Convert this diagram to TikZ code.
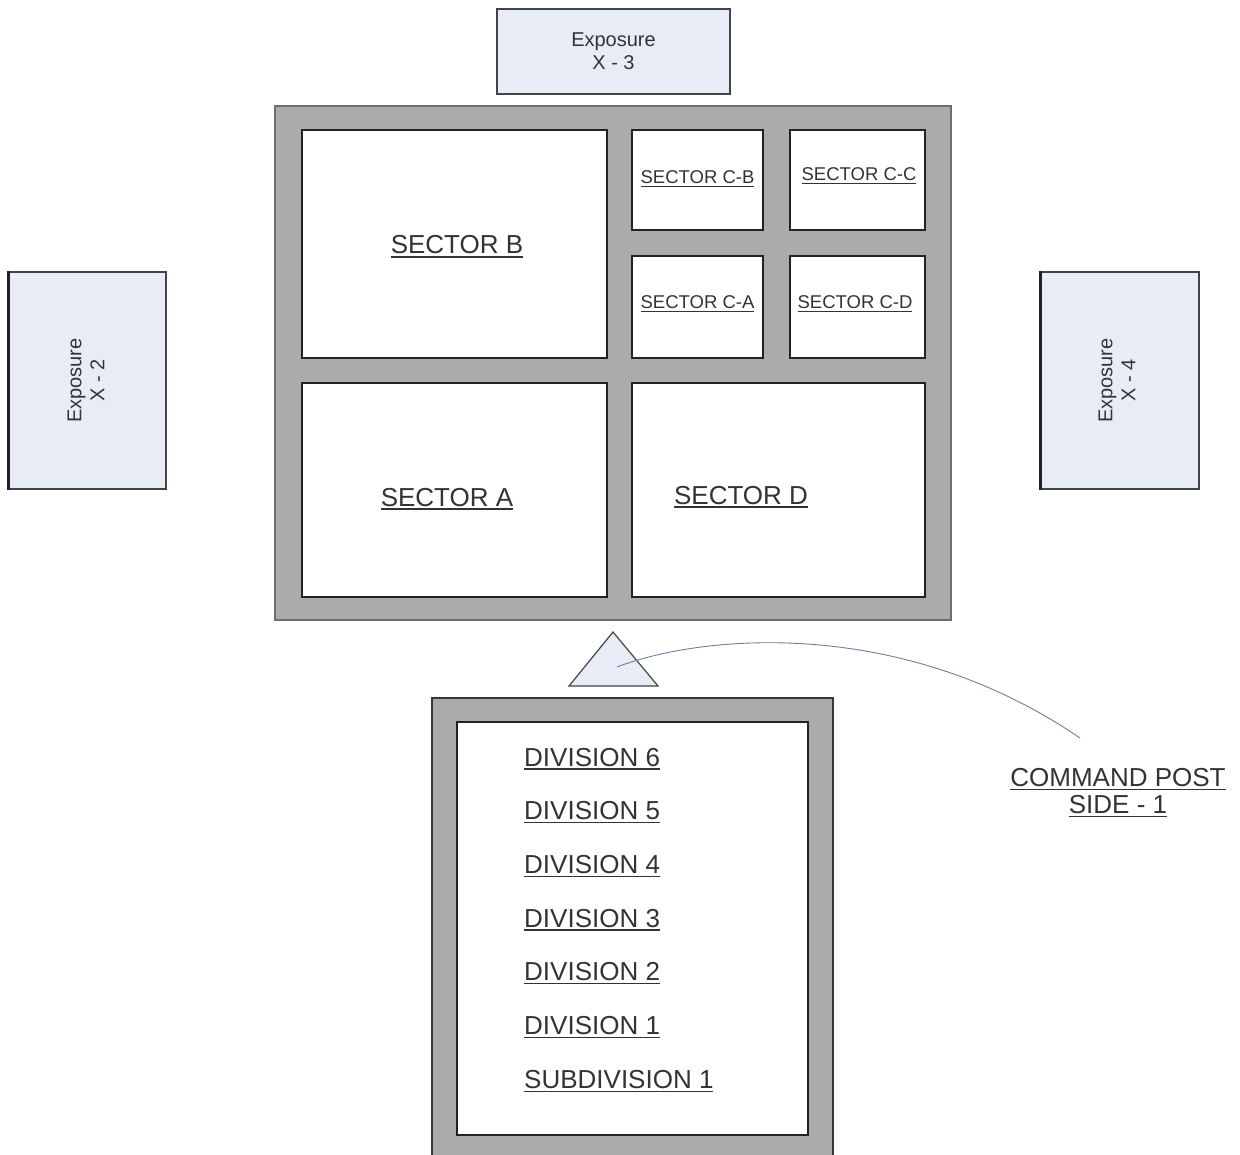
\documentclass[tikz,border=0pt]{standalone}
\usepackage{fontspec}
\setmainfont{Liberation Sans}
\usetikzlibrary{positioning}
\definecolor{bldgray}{HTML}{ABABAB}
\definecolor{bldline}{HTML}{6E6E6E}
\definecolor{expblue}{HTML}{E7ECF7}
\definecolor{roomline}{HTML}{222222}
\definecolor{txtgray}{HTML}{333333}
\definecolor{cpline}{HTML}{6A7F9E}
\newsavebox{\ulblbox}
\newcommand{\ulbl}[1]{\sbox{\ulblbox}{#1}\leavevmode\rlap{\rule[-0.14em]{\wd\ulblbox}{0.05em}}\usebox{\ulblbox}}
\tikzset{
  building/.style={
    draw=bldline,
    fill=bldgray,
    line width=1.2pt,
    inner sep=0pt
  },
  room/.style={
    draw=roomline,
    fill=white,
    line width=1.4pt,
    inner sep=0pt
  },
  exposure/.style={
    draw=roomline!85,
    fill=expblue,
    line width=1.1pt,
    inner sep=0pt
  },
  exptext/.style={
    font=\fontsize{20}{23}\selectfont,
    text=txtgray,
    align=center,
    inner sep=0pt
  },
  biglabel/.style={
    font=\fontsize{26}{28}\selectfont,
    text=txtgray,
    inner sep=0pt
  },
  smalllabel/.style={
    font=\fontsize{18.5}{20}\selectfont,
    text=txtgray,
    inner sep=0pt
  },
  cplink/.style={
    draw=cpline,
    line width=0.9pt
  }
}

\begin{document}
\begin{tikzpicture}[x=1pt, y=-1pt]
\useasboundingbox (0,0) rectangle (1240,1155);

% exposures
\node[exposure, minimum width=233pt, minimum height=85pt] (exp3) at (613.5,51.5) {};
\node[exptext] (exp3txt) at (exp3.center) {Exposure\\X - 3};

\node[exposure, minimum width=157pt, minimum height=217pt] (exp2) at (87.5,380.5) {};
\node[exptext, rotate=90] (exp2txt) at (86,380.5) {Exposure\\X - 2};
\draw[line width=2.4pt, roomline] (exp2.north west) -- (exp2.south west);

\node[exposure, minimum width=158pt, minimum height=217pt] (exp4) at (1120,380.5) {};
\node[exptext, rotate=90] (exp4txt) at (1117,380.5) {Exposure\\X - 4};
\draw[line width=2.4pt, roomline] (exp4.north west) -- (exp4.south west);

% main building
\node[building, minimum width=676pt, minimum height=514pt] (mainbldg) at (613,363) {};

\node[room, minimum width=305pt, minimum height=228pt] (secB) at (454.5,244) {};
\node[room, minimum width=131pt, minimum height=100pt] (secCB) at (697.5,180) {};
\node[room, minimum width=135pt, minimum height=100pt] (secCC) at (857.5,180) {};
\node[room, minimum width=131pt, minimum height=102pt] (secCA) at (697.5,307) {};
\node[room, minimum width=135pt, minimum height=102pt] (secCD) at (857.5,307) {};
\node[room, minimum width=305pt, minimum height=214pt] (secA) at (454.5,490) {};
\node[room, minimum width=293pt, minimum height=214pt] (secD) at (778.5,490) {};

\node[biglabel, anchor=base] (secBtxt) at (457,254) {\ulbl{SECTOR B}};
\node[biglabel, anchor=base] (secAtxt) at (447,506) {\ulbl{SECTOR A}};
\node[biglabel, anchor=base] (secDtxt) at (741,504) {\ulbl{SECTOR D}};
\node[smalllabel, anchor=base] (secCBtxt) at (697.5,184) {\ulbl{SECTOR C-B}};
\node[smalllabel, anchor=base] (secCCtxt) at (859,181) {\ulbl{SECTOR C-C}};
\node[smalllabel, anchor=base] (secCAtxt) at (697.5,309) {\ulbl{SECTOR C-A}};
\node[smalllabel, anchor=base] (secCDtxt) at (855,309) {\ulbl{SECTOR C-D}};

% command post
\draw[draw=roomline!85, fill=expblue, line width=1.2pt, line join=miter]
  (613,632) -- (658,686) -- (569,686) -- cycle;
\coordinate (cptip) at (617,667);
\coordinate (cpend) at (1080,738);
\node[biglabel, align=center, font=\fontsize{26}{27}\selectfont] (cmdpost) at (1118,793)
  {\ulbl{COMMAND POST}\\\ulbl{SIDE - 1}};
\draw[cplink] (cptip) .. controls (700,635) and (900,615) .. (cpend);

% division building
\node[building, draw=roomline!90, minimum width=401pt, minimum height=460pt] (divbldg) at (632.5,928) {};
\node[room, minimum width=351pt, minimum height=413pt] (divroom) at (632.5,928.5) {};

\foreach \d [count=\i from 0] in {DIVISION 6, DIVISION 5, DIVISION 4, DIVISION 3, DIVISION 2, DIVISION 1, SUBDIVISION 1}
  \node[biglabel, anchor=base west] (div\i) at (524,766+53.7*\i) {\ulbl{\d}};

\end{tikzpicture}
\end{document}
